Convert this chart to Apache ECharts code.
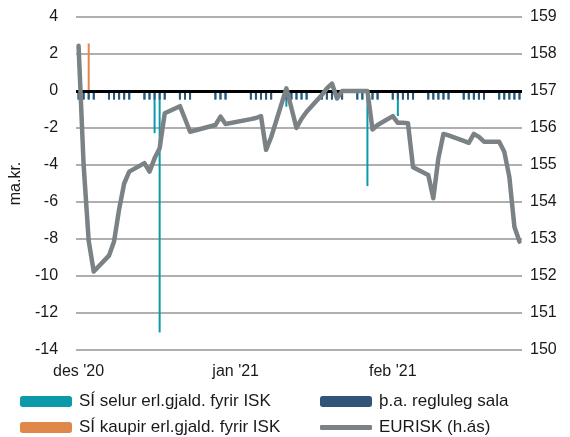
<!DOCTYPE html>
<html>
<head>
<meta charset="utf-8">
<script src="https://cdn.jsdelivr.net/npm/echarts@6/dist/echarts.min.js"></script>
<style>
  html, body { margin: 0; padding: 0; background: #fff; }
  #chart { width: 570px; height: 437px; }
</style>
</head>
<body>
<div id="chart"></div>
<script>
// viðskiptadagar (virkir dagar) des '20 - feb '21
const days = [
  "2020-12-01", "2020-12-02", "2020-12-03", "2020-12-04", "2020-12-07", "2020-12-08", "2020-12-09", "2020-12-10", "2020-12-11",
  "2020-12-14", "2020-12-15", "2020-12-16", "2020-12-17", "2020-12-18", "2020-12-21", "2020-12-22", "2020-12-23",
  "2020-12-28", "2020-12-29", "2020-12-30",
  "2021-01-04", "2021-01-05", "2021-01-06", "2021-01-07", "2021-01-08", "2021-01-11", "2021-01-12", "2021-01-13", "2021-01-14", "2021-01-15",
  "2021-01-18", "2021-01-19", "2021-01-20", "2021-01-21", "2021-01-22", "2021-01-25", "2021-01-26", "2021-01-27", "2021-01-28", "2021-01-29",
  "2021-02-01", "2021-02-02", "2021-02-03", "2021-02-04", "2021-02-05", "2021-02-08", "2021-02-09", "2021-02-10", "2021-02-11", "2021-02-12",
  "2021-02-15", "2021-02-16", "2021-02-17", "2021-02-18", "2021-02-19", "2021-02-22", "2021-02-23", "2021-02-24", "2021-02-25", "2021-02-26"
];

// EURISK (h.ás)
const eurisk = [
  158.22, 155.0, 152.95, 152.12, 152.55, 152.93, 153.8, 154.5, 154.82,
  155.05, 154.82, 155.18, 155.45, 156.4, 156.59, 156.25, 155.9,
  156.08, 156.31, 156.11,
  156.24, 156.27, 156.32, 155.41, 155.75, 157.07, 156.54, 156.0, 156.25, 156.44,
  156.89, 157.07, 157.2, 156.8, 157.0, 157.0, 157.0, 157.0, 155.96, 156.08,
  156.32, 156.14, 156.14, 156.13, 154.94, 154.73, 154.1, 155.18, 155.84, 155.8,
  155.65, 155.6, 155.84, 155.76, 155.63, 155.63, 155.36, 154.68, 153.33, 152.93
];

// SÍ selur erl.gjald. fyrir ISK (ma.kr.)
const selur = [
  -0.46, -0.46, -0.46, -0.46, -0.46, -0.46, -0.46, -0.46, -0.46,
  -0.46, -0.46, -2.28, -13.05, -0.46, -0.46, -0.46, -0.46,
  -0.46, -0.46, -0.46,
  -0.46, -0.46, -0.46, -0.46, -0.46, -0.85, -0.46, -0.46, -0.46, -0.46,
  -0.46, -0.46, -0.46, -0.46, -0.46, -0.46, -0.46, -5.14, -0.46, -0.46,
  -0.46, -1.35, -0.46, -0.46, -0.46, -0.46, -0.46, -0.46, -0.46, -0.46,
  -0.46, -0.46, -0.46, -0.46, -0.46, -0.46, -0.46, -0.46, -0.46, -0.46
];

// SÍ kaupir erl.gjald. fyrir ISK
const kaupir = [
  0, 0, 2.57, 0, 0, 0, 0, 0, 0,
  0, 0, 0, 0, 0, 0, 0, 0,
  0, 0, 0,
  0, 0, 0, 0, 0, 0, 0, 0, 0, 0,
  0, 0, 0, 0, 0, 0, 0, 0, 0, 0,
  0, 0, 0, 0, 0, 0, 0, 0, 0, 0,
  0, 0, 0, 0, 0, 0, 0, 0, 0, 0
];

// þ.a. regluleg sala
const regluleg = [
  -0.46, -0.46, -0.46, -0.46, -0.46, -0.46, -0.46, -0.46, -0.46,
  -0.46, -0.46, -0.46, -0.46, -0.46, -0.46, -0.46, -0.46,
  -0.46, -0.46, -0.46,
  -0.46, -0.46, -0.46, -0.46, -0.46, -0.46, -0.46, -0.46, -0.46, -0.46,
  -0.46, -0.46, -0.46, -0.46, -0.46, -0.46, -0.46, -0.46, -0.46, -0.46,
  -0.46, -0.46, -0.46, -0.46, -0.46, -0.46, -0.46, -0.46, -0.46, -0.46,
  -0.46, -0.46, -0.46, -0.46, -0.46, -0.46, -0.46, -0.46, -0.46, -0.46
];

const monthLabels = { "12": "des '20", "01": "jan '21", "02": "feb '21" };
const leftTicks = { min: -14, max: 4, interval: 2 };
const rightTicks = { min: 150, max: 159, interval: 1 };

// allir almanaksdagar á ásnum, helgar/frídagar tómir
const calendar = [];
for (let d = new Date(Date.UTC(2020, 11, 1)); d <= new Date(Date.UTC(2021, 1, 26)); d.setUTCDate(d.getUTCDate() + 1)) {
  calendar.push(d.toISOString().slice(0, 10));
}
function onCalendar(values) {
  const map = {};
  days.forEach((day, i) => { map[day] = values[i]; });
  return calendar.map((day) => (day in map ? map[day] : null));
}

const font = "'Liberation Sans', Arial, sans-serif";
const textColor = "#1a1a1a";

const myChart = echarts.init(document.getElementById("chart"), null, { renderer: "canvas" });
const option = {
  animation: false,
  grid: { left: 76, right: 48, top: 17, bottom: 87 },
  legend: [
    { data: ["SÍ selur erl.gjald. fyrir ISK"], left: 20, top: 393, itemHeight: 11 },
    { data: ["þ.a. regluleg sala"], left: 320, top: 393, itemHeight: 11 },
    { data: ["SÍ kaupir erl.gjald. fyrir ISK"], left: 20, top: 419, itemHeight: 11 },
    { data: [{ name: "EURISK (h.ás)", icon: "roundRect" }], left: 320, top: 419, itemHeight: 5 }
  ].map((l) => Object.assign(l, {
    itemWidth: 52, itemGap: 0,
    textStyle: { fontFamily: font, fontSize: 17, color: textColor, padding: [0, 0, 0, 2] },
    padding: 0
  })),
  xAxis: {
    type: "category",
    data: calendar,
    boundaryGap: true,
    axisLine: { show: false, onZero: false },
    axisTick: { show: false },
    axisLabel: {
      interval: (idx, val) => val.slice(8) === "01",
      formatter: (val) => monthLabels[val.slice(5, 7)],
      fontFamily: font, fontSize: 16, color: textColor, margin: 14
    }
  },
  yAxis: [
    {
      type: "value",
      min: leftTicks.min, max: leftTicks.max, interval: leftTicks.interval,
      name: "ma.kr.",
      nameLocation: "middle",
      nameGap: 51,
      nameTextStyle: { fontFamily: font, fontSize: 16, color: textColor },
      axisLine: { show: false },
      axisTick: { show: false },
      axisLabel: { fontFamily: font, fontSize: 16, color: textColor, margin: 18 },
      splitLine: { lineStyle: { color: "#959595", width: 1.5 } }
    },
    {
      type: "value",
      min: rightTicks.min, max: rightTicks.max, interval: rightTicks.interval,
      position: "right",
      axisLine: { show: false },
      axisTick: { show: false },
      axisLabel: { fontFamily: font, fontSize: 16, color: textColor, margin: 8 },
      splitLine: { show: false }
    }
  ],
  series: [
    {
      name: "SÍ selur erl.gjald. fyrir ISK",
      type: "bar",
      data: onCalendar(selur),
      barWidth: 2,
      barGap: "-100%",
      itemStyle: { color: "#0c9aab" },
      markLine: {
        silent: true,
        symbol: "none",
        label: { show: false },
        lineStyle: { color: "#000", width: 3, type: "solid" },
        data: [{ yAxis: 0 }]
      }
    },
    {
      name: "SÍ kaupir erl.gjald. fyrir ISK",
      type: "bar",
      data: onCalendar(kaupir),
      barWidth: 2,
      barGap: "-100%",
      itemStyle: { color: "#e0874a" }
    },
    {
      name: "þ.a. regluleg sala",
      type: "bar",
      data: onCalendar(regluleg),
      barWidth: 2,
      barGap: "-100%",
      itemStyle: { color: "#305578" }
    },
    {
      name: "EURISK (h.ás)",
      type: "line",
      yAxisIndex: 1,
      data: onCalendar(eurisk),
      connectNulls: true,
      symbol: "none",
      lineStyle: { color: "#7a8285", width: 4.5, cap: "round", join: "round" },
      itemStyle: { color: "#7a8285" },
      z: 5
    }
  ]
};
myChart.setOption(option);
window.addEventListener("resize", function () {
  myChart.resize();
});
</script>
</body>
</html>
